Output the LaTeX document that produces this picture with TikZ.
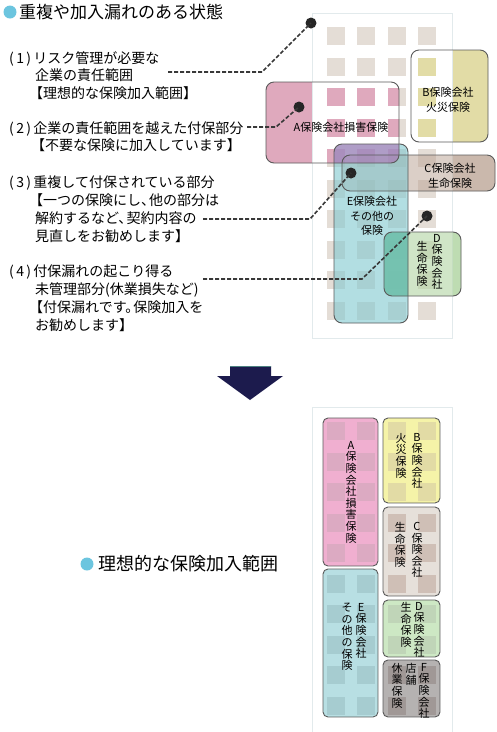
\documentclass[tikz,border=0pt]{standalone}
\usepackage{fontspec}
\setmainfont{Noto Sans CJK JP}
\usetikzlibrary{positioning}

\definecolor{dotblue}{HTML}{6CC5DF}
\definecolor{panelline}{HTML}{E2EAEC}
\definecolor{sqbeige}{HTML}{E4DDD6}
\definecolor{pinkA}{HTML}{DFA9BD}
\definecolor{yellowB}{HTML}{E2DCA6}
\definecolor{brownC}{HTML}{B9A191}
\definecolor{cyanE}{HTML}{80C8D0}
\definecolor{purpleAE}{HTML}{AE73B6}
\definecolor{greenD}{HTML}{B1D5A3}
\definecolor{tealDE}{HTML}{6BBFAE}
\definecolor{navy}{HTML}{1C1B4D}
\definecolor{lineg}{HTML}{5A5A5A}
\definecolor{lowA}{HTML}{F0AFD0}
\definecolor{lowAsq}{HTML}{DCAAC2}
\definecolor{lowB}{HTML}{F5F3A8}
\definecolor{lowBsq}{HTML}{E2DBA5}
\definecolor{lowC}{HTML}{E6E0DA}
\definecolor{lowCsq}{HTML}{CFBFB6}
\definecolor{lowD}{HTML}{CDE8C4}
\definecolor{lowDsq}{HTML}{C0D5B8}
\definecolor{lowE}{HTML}{B8DFE3}
\definecolor{lowEsq}{HTML}{A6CCD0}
\definecolor{lowF}{HTML}{B5B2B1}
\definecolor{lowFsq}{HTML}{A09896}

% grid of squares: colour, top row
\newcommand{\sqgrid}[2]{%
  \foreach \i in {0,...,3}
    \foreach \j in {0,...,9}
      \fill[#1] ({327+30.4*\i},{#2+30.5*\j}) rectangle ++(18,18);}
% half-width punctuation
\newcommand{\tten}{、\kern-6pt}
\newcommand{\maru}{。\kern-6pt}

\begin{document}
\begin{tikzpicture}[x=1pt, y=-1pt,
    bullet/.style={circle, fill=dotblue, inner sep=0pt, minimum size=13pt},
    head/.style={inner sep=0pt, anchor=west},
    item/.style={font=\fontsize{14}{17.7}\selectfont, align=left, inner sep=0pt, anchor=north west},
    lbl/.style={font=\fontsize{11}{14.5}\selectfont, align=center, inner sep=0pt},
    vlbl/.style={font=\fontsize{11}{11.6}\selectfont, align=center, inner sep=0pt, anchor=north},
    region/.style={draw=lineg, line width=0.9pt, rounded corners=8pt},
    cell/.style={draw=lineg, line width=0.9pt, rounded corners=5pt},
    leader/.style={draw=black!78, line width=1.6pt, dash pattern=on 4pt off 2pt},
    pin/.style={circle, fill=black!85, inner sep=0pt, minimum size=11pt}]
\useasboundingbox (0,0) rectangle (497,732);

% corners of the upper boxes
\coordinate (A1) at (266,82);  \coordinate (A2) at (399,163);
\coordinate (B1) at (411,50);  \coordinate (B2) at (488,142);
\coordinate (C1) at (342,155); \coordinate (C2) at (495,191);
\coordinate (E1) at (334,144); \coordinate (E2) at (408,323);
\coordinate (D1) at (384,232); \coordinate (D2) at (461,296);

% headline
\node[bullet] (bul1) at (10,12) {};
\node[head, font=\fontsize{17}{20}\selectfont] (title1) at (19,12) {重複や加入漏れのある状態};

% left-hand notes
\node[item] (it1) at (9,51) {(\,1\,)\,リスク管理が必要な\\\hspace*{26pt}企業の責任範囲\\\hspace*{20pt}【理想的な保険加入範囲】};
\node[item] (it2) at (9,121) {(\,2\,)\,企業の責任範囲を越えた付保部分\\\hspace*{22pt}【不要な保険に加入しています】};
\node[item] (it3) at (9,176) {(\,3\,)\,重複して付保されている部分\\\hspace*{20pt}【一つの保険にし\tten 他の部分は\\\hspace*{26pt}解約するなど\tten 契約内容の\\\hspace*{26pt}見直しをお勧めします】};
\node[item] (it4) at (9,265) {(\,4\,)\,付保漏れの起こり得る\\\hspace*{26pt}未管理部分(休業損失など)\\\hspace*{20pt}【付保漏れです\maru 保険加入を\\\hspace*{26pt}お勧めします】};

% parts outside the panel
\fill[pinkA, rounded corners=8pt] (A1) rectangle (A2);
\fill[yellowB, rounded corners=8pt] (B1) rectangle (B2);
\fill[brownC, fill opacity=.5, rounded corners=8pt] (C1) rectangle (C2);
\fill[greenD, fill opacity=.6, rounded corners=8pt] (D1) rectangle (D2);

% panel with squares
\filldraw[fill=white, draw=panelline] (312,13) rectangle (452,338);
\sqgrid{sqbeige}{27}
\begin{scope}
  \clip[rounded corners=8pt] (A1) rectangle (A2);
  \sqgrid{pinkA}{27}
\end{scope}
\begin{scope}
  \clip[rounded corners=8pt] (B1) rectangle (B2);
  \sqgrid{yellowB}{27}
\end{scope}

% overlays
\fill[brownC, fill opacity=.5, rounded corners=8pt] (C1) rectangle (C2);
\fill[cyanE, fill opacity=.6, rounded corners=8pt] (E1) rectangle (E2);
\begin{scope}
  \clip[rounded corners=8pt] (E1) rectangle (E2);
  \fill[purpleAE, fill opacity=.6, rounded corners=8pt] (A1) rectangle (A2);
\end{scope}
\fill[greenD, fill opacity=.6, rounded corners=8pt] (D1) rectangle (D2);
\begin{scope}
  \clip[rounded corners=8pt] (D1) rectangle (D2);
  \fill[tealDE, fill opacity=.85, rounded corners=8pt] (E1) rectangle (E2);
\end{scope}

\draw[region] (A1) rectangle (A2);
\draw[region] (B1) rectangle (B2);
\draw[region] (C1) rectangle (C2);
\draw[region] (E1) rectangle (E2);
\draw[region] (D1) rectangle (D2);

% labels in the panel
\node[lbl] (labA) at (341,127) {A保険会社損害保険};
\node[lbl] (labB) at (448,100) {B保険会社\\火災保険};
\node[lbl] (labC) at (450,176) {C保険会社\\生命保険};
\node[lbl, font=\fontsize{11}{14.8}\selectfont] (labE) at (372,216) {E保険会社\\その他の\\保険};
\node[vlbl] (labD) at (437,234) {D\\保\\険\\会\\社};
\node[vlbl] (labDb) at (422,241) {生\\命\\保\\険};

% leaders
\node[pin] (dot1) at (311,23) {};
\node[pin] (dot2) at (299,107) {};
\node[pin] (dot3) at (351,173) {};
\node[pin] (dot4) at (427,216) {};
\coordinate (from1) at (168,72);
\coordinate (from2) at (247,127);
\coordinate (from3) at (203,219);
\coordinate (from4) at (203,279);
\draw[leader] (from1) -- (262,72) -- (dot1.center);
\draw[leader] (from2) -- (276,127) -- (dot2.center);
\draw[leader] (from3) -- (310,219) -- (dot3.center);
\draw[leader] (from4) -- (362,279) -- (dot4.center);

% arrow
\fill[navy] (230,366) -- (271,366) -- (271,376) -- (283,376) -- (250,400) -- (217,376) -- (230,376) -- cycle;
\draw[teal!40!gray, line width=0.8pt] (230,366.4) -- (271,366.4);

% lower part
\node[bullet] (bul2) at (87,564) {};
\node[head, font=\fontsize{18}{21}\selectfont] (title2) at (98,564) {理想的な保険加入範囲};

\draw[panelline] (312,745) -- (312,407) -- (452,407) -- (452,745);
\foreach \bx/\by/\ex/\ey/\fc/\sc in {323/418/378/566/lowA/lowAsq, 383/418/440/503/lowB/lowBsq,
    383/507/440/596/lowC/lowCsq, 383/600/440/657/lowD/lowDsq,
    383/660/440/717/lowF/lowFsq, 323/569/378/717/lowE/lowEsq}{
  \begin{scope}
    \clip[rounded corners=5pt] (\bx,\by) rectangle (\ex,\ey);
    \fill[\fc] (\bx,\by) rectangle (\ex,\ey);
    \sqgrid{\sc}{422}
  \end{scope}
  \draw[cell] (\bx,\by) rectangle (\ex,\ey);
}

\node[vlbl] (lowlabA) at (351,441) {A\\保\\険\\会\\社\\損\\害\\保\\険};
\node[vlbl] (lowlabB) at (417,433) {B\\保\\険\\会\\社};
\node[vlbl] (lowlabBb) at (401,433) {火\\災\\保\\険};
\node[vlbl] (lowlabC) at (417,522) {C\\保\\険\\会\\社};
\node[vlbl] (lowlabCb) at (400,522) {生\\命\\保\\険};
\node[vlbl] (lowlabD) at (419,602) {D\\保\\険\\会\\社};
\node[vlbl] (lowlabDb) at (406,602) {生\\命\\保\\険};
\node[vlbl] (lowlabE) at (361,603) {E\\保\\険\\会\\社};
\node[vlbl] (lowlabEb) at (347,603) {そ\\の\\他\\の\\保\\険};
\node[vlbl] (lowlabF) at (424,663) {F\\保\\険\\会\\社};
\node[vlbl] (lowlabFb) at (411,663) {店\\舗};
\node[vlbl] (lowlabFc) at (397,663) {休\\業\\保\\険};
\end{tikzpicture}
\end{document}
